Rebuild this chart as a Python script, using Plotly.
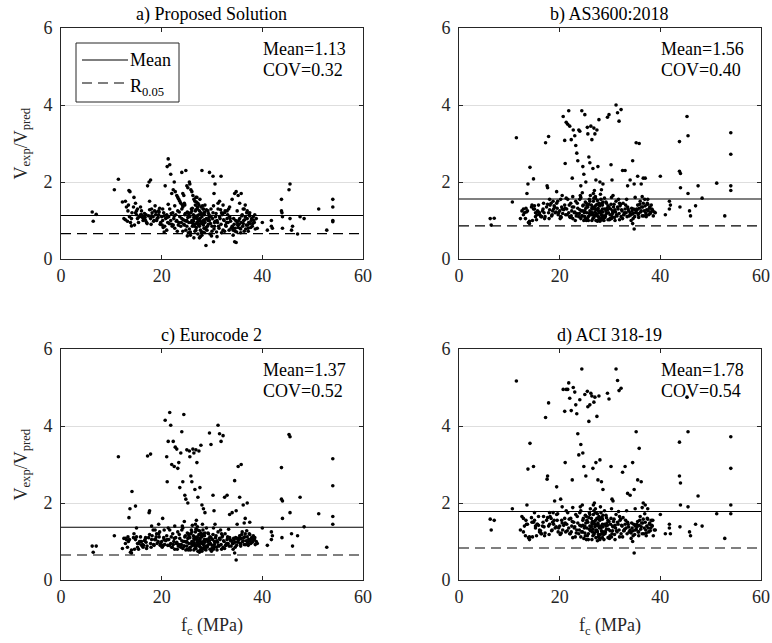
import plotly.graph_objects as go

# ---------------- data ----------------
fc = [
    6.2, 6.4, 7.0, 10.6, 11.4, 12.2, 12.5, 12.8, 13.0, 13.3,
    13.5, 13.7, 13.8, 14.0, 14.1, 14.5, 14.8, 15.0, 15.2, 15.5,
    16.0, 16.4, 16.8, 17.2, 17.5, 17.8, 17.6, 18.0, 18.3, 18.6,
    19.0, 19.4, 19.8, 20.2, 20.5, 20.7, 21.0, 21.1, 21.3, 21.6,
    21.8, 22.0, 22.3, 22.5, 22.7, 23.0, 23.2, 23.4, 23.6, 23.8,
    24.0, 24.2, 24.4, 24.6, 24.8, 25.0, 25.2, 25.5, 25.6, 25.8,
    26.0, 26.2, 26.4, 26.6, 26.8, 27.0, 27.2, 27.4, 27.6, 27.8,
    28.0, 28.3, 28.6, 29.5, 29.8, 30.2, 30.4, 30.6, 31.2, 31.5,
    31.8, 32.2, 32.5, 33.0, 33.5, 34.0, 34.5, 34.8, 35.2, 35.5,
    35.8, 36.2, 36.6, 37.0, 37.5, 38.5, 39.0, 40.0, 41.0, 41.8,
    41.8, 42.0, 43.8, 43.8, 44.0, 44.0, 43.9, 45.3, 45.5, 45.5,
    45.8, 46.0, 47.0, 47.5, 48.3, 51.2, 52.8, 54.0, 54.0, 54.0, 54.0,
    15.2, 15.6, 16.0, 16.3, 16.7, 17.0, 17.4, 17.8, 18.1, 18.5,
    18.8, 19.1, 19.4, 19.7, 20.0, 20.2, 20.4, 20.6, 20.8, 21.0,
    21.2, 21.4, 21.6, 21.8, 22.0, 22.2, 22.4, 22.6, 22.8, 23.0,
    23.2, 23.4, 23.6, 23.8, 24.0, 24.2, 24.4, 24.6, 24.8, 25.0,
    25.1, 25.3, 25.4, 25.6, 25.7, 25.9, 26.0, 26.1, 26.3, 26.4,
    26.5, 26.6, 26.7, 26.8, 26.9, 27.0, 27.1, 27.2, 27.3, 27.4,
    27.5, 27.6, 27.7, 27.8, 27.9, 28.0, 28.1, 28.2, 28.3, 28.4,
    28.5, 28.6, 28.8, 28.9, 29.0, 29.2, 29.3, 29.5, 29.6, 29.8,
    30.0, 30.2, 30.3, 30.5, 30.7, 30.9, 31.0, 31.2, 31.4, 31.6,
    31.8, 32.0, 32.2, 32.4, 32.6, 32.8, 33.0, 33.2, 33.5, 33.8,
    34.0, 34.2, 34.4, 34.5, 34.6, 34.7, 34.8, 34.9, 35.0, 35.2,
    35.4, 35.5, 35.7, 35.8, 36.0, 36.1, 36.3, 36.4, 36.6, 36.8,
    37.0, 37.2, 37.4, 37.6, 37.8, 38.0, 38.2, 38.4, 38.6, 38.8,
    12.8, 13.2, 13.6, 14.0, 14.4, 14.8, 15.0, 15.4, 15.8, 16.2,
    16.6, 17.1, 17.6, 18.0, 18.4, 18.9, 19.3, 19.6, 20.1, 20.5,
    21.1, 21.5, 21.9, 22.1, 22.5, 22.9, 23.1, 23.5, 23.9, 24.1,
    24.3, 24.5, 24.7, 24.9, 25.2, 25.5, 25.8, 26.2, 26.5, 26.7,
    26.9, 27.1, 27.3, 27.5, 27.7, 27.9, 28.1, 28.3, 28.5, 28.7,
    26.0, 26.3, 26.6, 27.0, 27.4, 27.8, 28.2, 28.6, 29.1, 29.4,
    29.7, 30.1, 30.4, 30.8, 31.1, 31.5, 31.9, 32.3, 32.7, 33.1,
    33.4, 33.7, 34.1, 34.3, 34.6, 35.1, 35.3, 35.6, 35.9, 36.2,
    36.5, 36.7, 36.9, 37.1, 37.3, 37.5, 37.7, 37.9, 38.1, 38.3,
    24.0, 24.6, 25.0, 25.4, 25.9, 26.4, 26.8, 27.2, 27.6, 28.0,
    28.4, 28.8, 29.2, 29.6, 30.0, 30.6, 31.3, 32.1, 32.9, 33.6,
    22.6, 23.3, 24.5, 25.3, 26.1, 26.9, 27.5, 28.1, 28.9, 29.9,
    13.4, 14.6, 15.8, 16.9, 17.9, 18.7, 19.5, 20.3, 21.3, 22.3,
    30.3, 31.0, 31.7, 32.5, 33.3, 34.2, 35.0, 35.7, 36.4, 37.2,
    24.2, 25.1, 25.7, 26.5, 27.1, 27.7, 28.5, 29.3, 30.5, 31.9,
]

ratio_a = [
    1.22, 0.98, 1.16, 1.80, 2.07, 1.48, 1.05, 1.50, 1.35, 1.25,
    1.78, 1.75, 0.95, 0.86, 1.20, 1.60, 1.45, 1.15, 1.30, 1.10,
    1.25, 1.05, 1.00, 1.90, 2.00, 2.05, 1.50, 1.30, 1.10, 1.25,
    1.00, 1.15, 0.95, 1.30, 0.70, 1.90, 0.75, 2.40, 2.60, 2.45,
    2.20, 1.70, 1.80, 2.00, 1.75, 1.65, 1.60, 1.55, 1.50, 1.45,
    2.25, 1.70, 1.65, 1.40, 2.30, 1.90, 1.85, 2.00, 1.95, 1.80,
    1.75, 1.65, 1.55, 1.50, 1.60, 1.60, 1.45, 1.40, 1.55, 1.35,
    2.30, 1.30, 1.40, 2.25, 1.30, 2.15, 1.70, 1.95, 1.45, 1.50,
    2.15, 1.40, 1.20, 1.25, 1.35, 1.55, 1.70, 1.75, 1.65, 1.45,
    1.70, 1.30, 1.40, 1.25, 1.20, 1.15, 0.80, 0.95, 0.75, 1.00,
    0.85, 0.80, 1.55, 1.25, 1.10, 0.80, 1.20, 1.80, 1.95, 1.05,
    0.75, 0.85, 0.65, 1.10, 1.05, 1.30, 0.75, 1.55, 1.35, 1.00, 0.97,
    1.05, 1.10, 1.15, 1.00, 1.08, 0.95, 1.12, 1.05, 1.20, 1.00,
    1.15, 1.05, 1.25, 0.90, 1.10, 1.00, 1.20, 0.85, 1.05, 1.15,
    0.95, 1.10, 1.30, 1.00, 0.90, 1.20, 1.05, 0.80, 1.15, 1.00,
    1.25, 0.95, 1.10, 0.85, 1.05, 1.35, 0.90, 1.15, 0.75, 1.00,
    0.60, 1.20, 0.95, 1.10, 0.70, 1.30, 1.00, 0.85, 1.15, 0.55,
    1.05, 0.90, 1.25, 0.75, 1.10, 0.95, 1.35, 0.65, 1.00, 1.15,
    0.85, 1.05, 0.58, 1.20, 0.92, 1.10, 0.70, 1.30, 1.00, 0.80,
    1.15, 0.95, 0.35, 1.05, 0.75, 1.25, 0.90, 1.00, 0.65, 1.10,
    0.85, 1.20, 0.45, 0.95, 1.10, 0.70, 1.00, 1.30, 0.80, 1.05,
    0.90, 1.15, 0.75, 1.00, 1.25, 0.85, 1.05, 0.95, 1.10, 0.80,
    0.85, 0.75, 0.90, 0.45, 0.80, 1.00, 0.43, 0.70, 0.95, 0.82,
    0.90, 1.05, 0.78, 0.95, 1.15, 0.85, 1.00, 0.72, 1.10, 0.88,
    1.05, 0.80, 1.15, 0.92, 1.00, 0.85, 1.10, 0.95, 0.78, 1.05,
    1.02, 0.98, 1.10, 1.05, 1.35, 1.20, 1.25, 0.95, 1.15, 1.08,
    1.18, 0.92, 1.28, 1.12, 0.98, 1.22, 1.08, 1.32, 0.88, 1.12,
    1.08, 0.92, 1.18, 0.85, 1.12, 0.98, 0.72, 1.22, 0.95, 1.40,
    1.02, 0.88, 1.18, 0.98, 1.08, 0.78, 1.20, 0.92, 1.12, 1.40,
    0.82, 1.12, 0.92, 1.25, 0.98, 0.68, 1.15, 0.88, 1.02, 0.78,
    1.25, 0.98, 0.72, 1.05, 0.88, 1.15, 0.95, 1.22, 0.85, 1.08,
    0.92, 1.05, 0.78, 1.18, 0.95, 1.10, 0.68, 1.02, 0.88, 1.15,
    0.75, 0.98, 0.82, 1.05, 0.72, 0.88, 1.00, 0.80, 1.12, 0.92,
    1.02, 0.78, 1.20, 0.88, 0.95, 1.12, 0.82, 1.05, 0.92, 1.00,
    1.30, 1.00, 0.85, 1.15, 0.95, 1.08, 1.28, 0.90, 1.05, 0.62,
    1.20, 0.82, 1.00, 1.12, 0.72, 0.98, 0.85, 1.18, 0.95, 1.05,
    1.38, 0.88, 1.45, 0.68, 1.32, 1.48, 0.55, 1.38, 1.28, 0.60,
    1.40, 0.88, 1.35, 1.15, 0.90, 1.38, 1.22, 0.82, 1.42, 0.88,
    1.38, 0.58, 1.28, 0.72, 1.30, 0.62, 1.25, 0.68, 1.30, 0.72,
    0.72, 1.22, 0.62, 0.85, 1.30, 0.75, 0.68, 1.18, 0.85, 1.20,
]

ratio_b = [
    1.05, 0.88, 1.06, 1.48, 3.15, 1.05, 1.25, 1.30, 1.20, 1.32,
    1.70, 1.95, 0.95, 0.92, 2.38, 1.40, 2.08, 1.30, 1.10, 1.15,
    1.20, 1.10, 1.45, 3.02, 1.90, 3.18, 1.85, 1.55, 1.45, 1.25,
    1.35, 1.75, 1.20, 1.55, 1.65, 3.70, 3.08, 2.48, 3.55, 3.50,
    3.85, 3.45, 3.10, 2.10, 3.35, 3.20, 2.95, 2.75, 2.55, 3.35,
    3.32, 1.90, 3.85, 2.40, 2.20, 3.75, 2.00, 3.42, 3.25, 2.65,
    2.50, 3.45, 3.10, 2.35, 3.40, 3.25, 2.05, 3.35, 2.40, 3.62,
    2.00, 1.80, 1.95, 3.68, 3.75, 2.45, 2.05, 1.65, 4.00, 3.80,
    3.58, 3.88, 2.30, 2.30, 1.90, 2.05, 2.55, 1.95, 3.02, 2.15,
    3.00, 1.95, 2.10, 2.10, 1.55, 1.25, 1.20, 2.15, 1.15, 1.50,
    1.30, 1.40, 3.05, 2.28, 2.22, 1.85, 1.35, 3.70, 3.20, 1.70,
    1.25, 1.12, 1.38, 1.90, 1.58, 1.97, 1.12, 3.28, 2.72, 1.90, 1.78,
    1.20, 1.25, 1.15, 1.10, 1.30, 1.05, 1.35, 1.20, 1.40, 1.15,
    1.30, 1.20, 1.45, 1.15, 1.25, 1.10, 1.35, 1.18, 1.28, 1.40,
    1.15, 1.30, 1.55, 1.20, 1.10, 1.45, 1.25, 1.05, 1.35, 1.22,
    1.50, 1.18, 1.32, 1.10, 1.28, 1.60, 1.12, 1.38, 1.00, 1.25,
    1.05, 1.45, 1.20, 1.35, 1.10, 1.55, 1.25, 1.15, 1.40, 1.00,
    1.30, 1.18, 1.50, 1.08, 1.35, 1.22, 1.62, 1.00, 1.28, 1.42,
    1.12, 1.32, 1.02, 1.45, 1.20, 1.38, 1.05, 1.55, 1.25, 1.10,
    1.40, 1.22, 1.00, 1.30, 1.08, 1.48, 1.18, 1.28, 1.02, 1.35,
    1.15, 1.42, 1.05, 1.25, 1.35, 1.08, 1.28, 1.50, 1.12, 1.30,
    1.18, 1.38, 1.10, 1.25, 1.45, 1.15, 1.30, 1.20, 1.35, 1.12,
    1.20, 1.15, 1.25, 0.92, 1.18, 1.30, 0.78, 1.10, 1.28, 1.22,
    1.28, 1.40, 1.18, 1.32, 1.50, 1.22, 1.35, 1.12, 1.45, 1.25,
    1.38, 1.15, 1.45, 1.25, 1.32, 1.18, 1.40, 1.28, 1.12, 1.22,
    1.15, 1.05, 1.25, 0.98, 1.35, 1.30, 1.38, 1.02, 1.22, 1.12,
    1.25, 1.10, 1.42, 1.28, 1.12, 1.38, 1.22, 1.50, 1.05, 1.30,
    1.32, 1.15, 1.40, 1.08, 1.35, 1.20, 1.00, 1.45, 1.18, 1.65,
    1.25, 1.12, 1.40, 1.20, 1.32, 1.05, 1.42, 1.15, 1.35, 1.70,
    1.12, 1.38, 1.18, 1.52, 1.25, 1.02, 1.42, 1.15, 1.30, 1.08,
    1.50, 1.22, 1.05, 1.30, 1.15, 1.40, 1.20, 1.48, 1.12, 1.32,
    1.20, 1.30, 1.10, 1.42, 1.22, 1.35, 1.02, 1.28, 1.15, 1.40,
    1.10, 1.25, 1.15, 1.32, 1.05, 1.20, 1.30, 1.15, 1.42, 1.25,
    1.35, 1.12, 1.55, 1.20, 1.28, 1.42, 1.15, 1.35, 1.22, 1.30,
    1.55, 1.25, 1.10, 1.38, 1.18, 1.32, 1.58, 1.15, 1.30, 0.98,
    1.45, 1.12, 1.25, 1.38, 1.05, 1.22, 1.15, 1.42, 1.20, 1.30,
    1.62, 1.12, 1.72, 1.00, 1.65, 1.78, 0.98, 1.68, 1.58, 1.02,
    1.22, 1.00, 1.40, 1.20, 1.05, 1.50, 1.32, 1.08, 1.58, 1.12,
    1.60, 1.00, 1.55, 1.05, 1.55, 1.00, 1.60, 1.08, 1.62, 1.10,
    1.05, 1.48, 1.00, 1.15, 1.58, 1.10, 1.02, 1.45, 1.18, 1.45,
]

ratio_c = [
    0.88, 0.72, 0.88, 1.15, 3.20, 0.82, 1.08, 1.08, 1.05, 1.12,
    1.62, 1.85, 0.72, 0.70, 2.30, 1.20, 1.92, 1.35, 0.85, 0.95,
    1.00, 0.90, 1.10, 3.22, 1.75, 3.27, 1.80, 1.40, 1.30, 1.05,
    1.20, 1.45, 0.95, 1.60, 1.30, 4.15, 3.20, 2.55, 3.60, 4.35,
    4.02, 3.00, 3.60, 2.95, 3.45, 3.40, 2.90, 3.05, 2.40, 3.30,
    3.85, 2.55, 4.30, 2.20, 2.10, 3.38, 2.00, 3.35, 3.20, 2.70,
    2.55, 3.40, 3.30, 2.35, 3.38, 3.05, 2.15, 3.35, 2.40, 3.50,
    1.95, 1.85, 1.75, 3.82, 3.52, 2.20, 1.80, 1.45, 4.02, 3.80,
    3.60, 3.75, 2.15, 2.20, 1.70, 1.75, 2.58, 1.80, 2.95, 2.15,
    3.00, 1.95, 1.60, 2.00, 1.50, 1.10, 0.95, 1.35, 0.90, 1.25,
    1.05, 1.15, 2.92, 2.10, 2.05, 1.60, 1.10, 3.78, 3.72, 1.75,
    1.20, 0.88, 1.15, 2.15, 1.38, 1.72, 0.85, 3.15, 2.45, 1.65, 1.45,
    0.95, 1.00, 0.90, 0.85, 1.05, 0.82, 1.10, 0.95, 1.15, 0.90,
    1.05, 0.95, 1.20, 0.90, 1.00, 0.88, 1.10, 0.92, 1.02, 1.15,
    0.90, 1.05, 1.30, 0.95, 0.85, 1.20, 1.00, 0.80, 1.10, 0.98,
    1.25, 0.92, 1.08, 0.85, 1.02, 1.35, 0.88, 1.12, 0.78, 1.00,
    0.80, 1.20, 0.95, 1.10, 0.85, 1.30, 1.00, 0.90, 1.15, 0.78,
    1.05, 0.92, 1.25, 0.82, 1.10, 0.98, 1.38, 0.75, 1.02, 1.18,
    0.88, 1.08, 0.78, 1.22, 0.95, 1.12, 0.82, 1.30, 1.00, 0.85,
    1.15, 0.98, 0.78, 1.05, 0.85, 1.22, 0.92, 1.02, 0.80, 1.10,
    0.90, 1.18, 0.80, 1.00, 1.10, 0.85, 1.02, 1.25, 0.88, 1.05,
    0.92, 1.12, 0.85, 1.00, 1.20, 0.90, 1.05, 0.95, 1.10, 0.88,
    1.00, 0.95, 1.05, 0.70, 0.98, 1.10, 0.52, 0.90, 1.08, 1.02,
    1.05, 1.15, 0.95, 1.08, 1.25, 1.00, 1.10, 0.92, 1.20, 1.02,
    1.12, 0.95, 1.20, 1.02, 1.08, 0.98, 1.15, 1.05, 0.92, 1.00,
    0.95, 0.85, 1.05, 0.78, 1.10, 1.05, 1.12, 0.80, 1.00, 0.92,
    1.02, 0.88, 1.18, 1.05, 0.92, 1.12, 1.00, 1.25, 0.85, 1.05,
    1.05, 0.90, 1.12, 0.85, 1.08, 0.95, 0.80, 1.18, 0.92, 1.40,
    1.00, 0.88, 1.15, 0.98, 1.08, 0.82, 1.20, 0.92, 1.12, 1.45,
    0.88, 1.12, 0.95, 1.28, 1.00, 0.80, 1.18, 0.92, 1.05, 0.85,
    1.25, 0.98, 0.82, 1.05, 0.90, 1.15, 0.95, 1.22, 0.88, 1.08,
    0.95, 1.05, 0.85, 1.15, 0.98, 1.08, 0.80, 1.02, 0.90, 1.12,
    0.88, 1.02, 0.95, 1.08, 0.85, 0.98, 1.08, 0.95, 1.18, 1.02,
    1.12, 0.92, 1.28, 0.98, 1.05, 1.18, 0.95, 1.10, 1.00, 1.05,
    1.30, 1.00, 0.88, 1.15, 0.95, 1.08, 1.32, 0.92, 1.05, 0.75,
    1.20, 0.88, 1.00, 1.12, 0.82, 0.98, 0.90, 1.15, 0.95, 1.05,
    1.40, 0.88, 1.52, 0.78, 1.42, 1.55, 0.72, 1.45, 1.35, 0.75,
    1.00, 0.80, 1.12, 0.98, 0.85, 1.30, 1.12, 0.90, 1.35, 0.92,
    1.35, 0.78, 1.30, 0.82, 1.32, 0.80, 1.45, 0.88, 1.48, 0.90,
    0.82, 1.22, 0.78, 0.90, 1.30, 0.85, 0.80, 1.20, 0.92, 1.20,
]

ratio_d = [
    1.58, 1.30, 1.55, 1.85, 5.17, 1.30, 1.65, 1.60, 1.40, 1.55,
    1.95, 2.88, 1.10, 1.05, 3.55, 1.50, 2.95, 1.75, 1.40, 1.45,
    1.30, 1.20, 1.65, 4.22, 2.62, 4.60, 2.70, 1.75, 1.60, 1.50,
    2.05, 2.42, 1.35, 2.10, 1.90, 4.95, 4.38, 3.05, 4.95, 4.95,
    5.12, 4.72, 4.40, 2.60, 5.00, 4.88, 4.55, 4.32, 3.80, 3.25,
    4.68, 3.52, 5.48, 3.30, 2.95, 4.82, 2.70, 4.90, 4.50, 4.12,
    4.55, 4.85, 4.78, 2.90, 4.62, 4.75, 3.05, 4.25, 2.60, 4.78,
    3.12, 2.55, 2.35, 4.85, 4.70, 2.95, 2.10, 2.05, 5.48, 5.18,
    4.92, 4.98, 2.80, 2.95, 2.25, 2.20, 3.05, 2.35, 3.85, 2.60,
    3.42, 2.55, 2.00, 1.95, 1.85, 1.55, 1.30, 1.70, 1.20, 1.45,
    1.35, 1.20, 3.58, 2.70, 2.52, 1.95, 1.38, 4.75, 3.85, 1.90,
    1.25, 1.15, 1.45, 2.18, 1.40, 1.72, 1.08, 3.72, 2.90, 1.95, 1.72,
    1.35, 1.45, 1.25, 1.20, 1.50, 1.15, 1.55, 1.40, 1.65, 1.30,
    1.45, 1.35, 1.70, 1.25, 1.40, 1.20, 1.55, 1.30, 1.42, 1.60,
    1.25, 1.45, 1.75, 1.35, 1.20, 1.60, 1.40, 1.10, 1.50, 1.38,
    1.70, 1.30, 1.48, 1.20, 1.42, 1.80, 1.25, 1.55, 1.08, 1.40,
    1.15, 1.65, 1.35, 1.50, 1.20, 1.75, 1.40, 1.28, 1.60, 1.05,
    1.45, 1.32, 1.70, 1.18, 1.52, 1.38, 1.85, 1.10, 1.42, 1.60,
    1.25, 1.48, 1.12, 1.65, 1.35, 1.55, 1.18, 1.75, 1.40, 1.22,
    1.58, 1.38, 1.05, 1.45, 1.20, 1.68, 1.32, 1.42, 1.10, 1.52,
    1.28, 1.60, 1.12, 1.40, 1.52, 1.18, 1.42, 1.70, 1.25, 1.45,
    1.30, 1.55, 1.20, 1.40, 1.62, 1.28, 1.45, 1.35, 1.50, 1.25,
    1.30, 1.22, 1.35, 1.00, 1.28, 1.45, 0.70, 1.18, 1.40, 1.32,
    1.38, 1.52, 1.25, 1.42, 1.65, 1.32, 1.48, 1.20, 1.58, 1.35,
    1.50, 1.22, 1.60, 1.35, 1.45, 1.28, 1.55, 1.40, 1.15, 1.30,
    1.25, 1.15, 1.45, 1.12, 1.62, 1.50, 1.55, 1.15, 1.42, 1.28,
    1.40, 1.22, 1.62, 1.45, 1.28, 1.55, 1.38, 1.72, 1.18, 1.48,
    1.48, 1.28, 1.58, 1.20, 1.52, 1.35, 1.12, 1.65, 1.30, 1.90,
    1.40, 1.25, 1.60, 1.35, 1.48, 1.15, 1.62, 1.30, 1.52, 1.95,
    1.22, 1.55, 1.30, 1.72, 1.40, 1.10, 1.60, 1.28, 1.45, 1.18,
    1.70, 1.38, 1.15, 1.45, 1.28, 1.58, 1.35, 1.68, 1.25, 1.48,
    1.32, 1.45, 1.20, 1.58, 1.35, 1.50, 1.12, 1.42, 1.28, 1.55,
    1.20, 1.38, 1.25, 1.48, 1.15, 1.30, 1.45, 1.25, 1.55, 1.38,
    1.48, 1.20, 1.72, 1.30, 1.40, 1.58, 1.25, 1.48, 1.35, 1.42,
    1.75, 1.42, 1.22, 1.55, 1.32, 1.48, 1.80, 1.28, 1.45, 1.05,
    1.62, 1.25, 1.40, 1.55, 1.15, 1.38, 1.28, 1.58, 1.32, 1.45,
    1.88, 1.22, 1.95, 1.05, 1.85, 2.00, 1.02, 1.90, 1.80, 1.08,
    1.45, 1.12, 1.65, 1.38, 1.18, 1.75, 1.55, 1.22, 1.80, 1.25,
    1.85, 1.05, 1.78, 1.12, 1.80, 1.08, 1.85, 1.15, 1.88, 1.15,
    1.12, 1.68, 1.05, 1.25, 1.75, 1.18, 1.10, 1.62, 1.28, 1.65,
]

panel_titles = ["a) Proposed Solution", "b) AS3600:2018", "c) Eurocode 2", "d) ACI 318-19"]
mean_vals = [1.13, 1.56, 1.37, 1.78]
cov_vals = [0.32, 0.40, 0.52, 0.54]
r05_vals = [0.66, 0.86, 0.65, 0.83]
x_ticks = [0, 20, 40, 60]
y_ticks = [0, 2, 4, 6]
x_range = [0, 60]
y_range = [0, 6]
legend_labels = ["Mean", "R<sub>0.05</sub>"]

# ---------------- figure ----------------
FONT = "Liberation Serif"
AX = "#262626"
FS = 18
DASH = "10px,6px"

W, H = 772, 643
px_x = [(61, 363), (459, 761), (61, 363), (459, 761)]
px_y = [(28, 259), (28, 259), (349, 580), (349, 580)]

ratios = [ratio_a, ratio_b, ratio_c, ratio_d]
n = min(len(fc), *(len(r) for r in ratios))


def px(x, y):
    """pixel position -> paper coordinates"""
    return x / W, 1 - y / H


fig = go.Figure()
annotations = []
shapes = []
layout_axes = {}
for i in range(4):
    sfx = "" if i == 0 else str(i + 1)
    xa, ya = "x" + sfx, "y" + sfx
    fig.add_trace(go.Scatter(
        x=fc[:n], y=ratios[i][:n], mode="markers",
        marker=dict(color="black", size=3.6, line=dict(width=0)),
        xaxis=xa, yaxis=ya, showlegend=False, hoverinfo="skip"))
    fig.add_trace(go.Scatter(
        x=x_range, y=[mean_vals[i]] * 2, mode="lines",
        line=dict(color="black", width=1.1), name=legend_labels[0],
        showlegend=False, xaxis=xa, yaxis=ya, hoverinfo="skip"))
    fig.add_trace(go.Scatter(
        x=x_range, y=[r05_vals[i]] * 2, mode="lines",
        line=dict(color="black", width=1.1, dash=DASH),
        name=legend_labels[1], showlegend=False,
        xaxis=xa, yaxis=ya, hoverinfo="skip"))

    dx = [px_x[i][0] / W, px_x[i][1] / W]
    dy = [1 - px_y[i][1] / H, 1 - px_y[i][0] / H]
    common = dict(showline=True, linecolor=AX, linewidth=1, mirror="ticks",
                  ticks="inside", ticklen=4, tickcolor=AX, zeroline=False,
                  tickfont=dict(family=FONT, size=FS, color=AX))
    layout_axes["xaxis" + sfx] = dict(domain=dx, range=x_range, tickvals=x_ticks,
                                      showgrid=False, anchor=ya, **common)
    layout_axes["yaxis" + sfx] = dict(domain=dy, range=y_range, tickvals=y_ticks,
                                      showgrid=True, gridcolor="#dedede", gridwidth=1,
                                      anchor=xa, ticklabelstandoff=4, **common)

    cx = (dx[0] + dx[1]) / 2
    annotations.append(dict(text=panel_titles[i], xref="paper", yref="paper",
                            x=cx, y=dy[1], xanchor="center", yanchor="bottom",
                            yshift=1, showarrow=False,
                            font=dict(family=FONT, size=FS, color="black")))
    annotations.append(dict(text=f"Mean={mean_vals[i]:.2f}",
                            xref=xa + " domain", yref=ya + " domain",
                            x=40 / 60, y=1 - 21 / 231, xanchor="left",
                            yanchor="middle", showarrow=False, borderpad=0,
                            font=dict(family=FONT, size=FS, color="black")))
    annotations.append(dict(text=f"COV={cov_vals[i]:.2f}",
                            xref=xa + " domain", yref=ya + " domain",
                            x=40 / 60, y=1 - 42 / 231, xanchor="left",
                            yanchor="middle", showarrow=False, borderpad=0,
                            font=dict(family=FONT, size=FS, color="black")))
    if i in (0, 2):
        annotations.append(dict(text="V<sub>exp</sub>/V<sub>pred</sub>", xref="paper",
                                yref="paper", x=22 / W, y=(dy[0] + dy[1]) / 2,
                                xanchor="center", yanchor="middle", textangle=-90,
                                showarrow=False,
                                font=dict(family=FONT, size=FS, color=AX)))
    if i in (2, 3):
        annotations.append(dict(text="f<sub>c</sub> (MPa)", xref="paper", yref="paper",
                                x=cx, y=1 - 626 / H, xanchor="center", yanchor="middle",
                                showarrow=False,
                                font=dict(family=FONT, size=FS, color=AX)))

# ---- hand-drawn legend box inside panel a (MATLAB style) ----
x0, y0 = px(76, 43)
x1, y1 = px(179, 102)
shapes.append(dict(type="rect", xref="paper", yref="paper", x0=x0, y0=y1, x1=x1, y1=y0,
                   line=dict(color=AX, width=1), fillcolor="white", layer="above"))
for k, (yy, dash) in enumerate([(60, "solid"), (83, DASH)]):
    lx0, ly = px(82, yy)
    lx1, _ = px(128, yy)
    shapes.append(dict(type="line", xref="paper", yref="paper", x0=lx0, x1=lx1,
                       y0=ly, y1=ly, line=dict(color="black", width=1.1, dash=dash),
                       layer="above"))
    tx, ty = px(129, yy + (0 if k == 0 else 4))
    annotations.append(dict(text=legend_labels[k], xref="paper", yref="paper",
                            x=tx, y=ty, xanchor="left", yanchor="middle",
                            showarrow=False, borderpad=0,
                            font=dict(family=FONT, size=FS, color="black")))

fig.update_layout(
    width=W, height=H, margin=dict(l=0, r=0, t=0, b=0, autoexpand=False),
    paper_bgcolor="white", plot_bgcolor="white",
    font=dict(family=FONT, size=FS, color="black"),
    annotations=annotations, shapes=shapes, showlegend=False,
    **layout_axes,
)

# remove the browser's default 8px page margin so the figure sits at (0, 0)
fig.write_html("out.html", config={"displayModeBar": False},
               post_script="document.body.style.margin='0px';")
